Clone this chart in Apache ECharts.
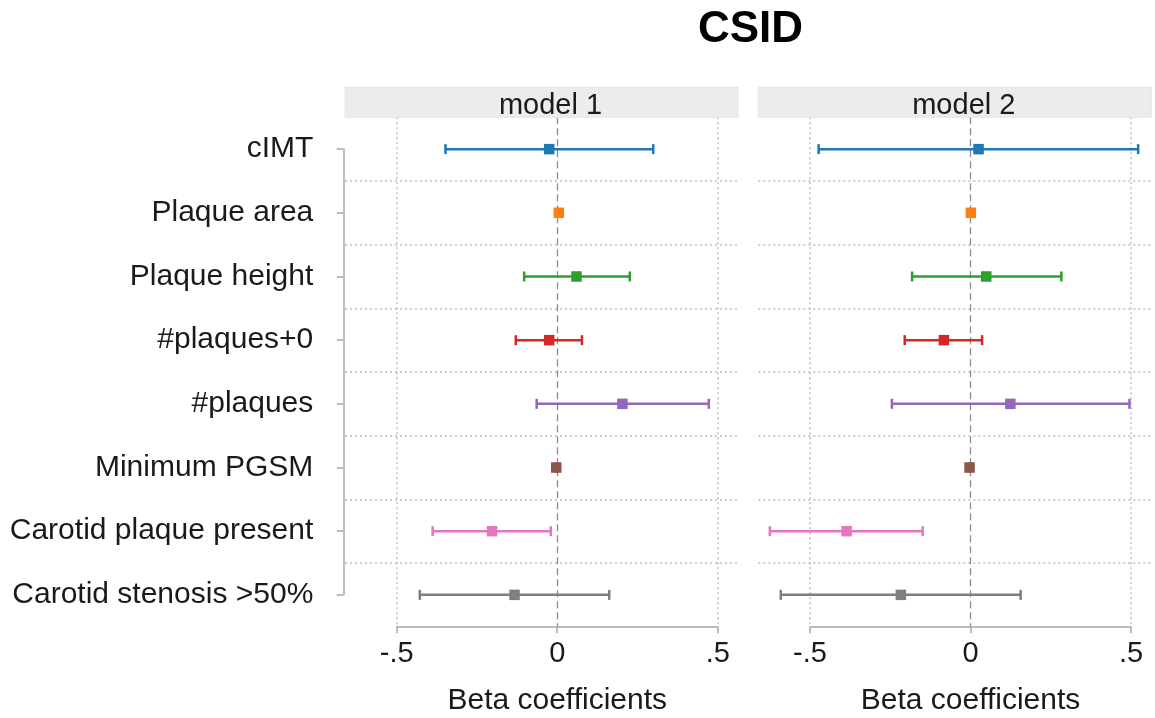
<!DOCTYPE html>
<html>
<head>
<meta charset="utf-8">
<title>CSID</title>
<script src="https://cdn.jsdelivr.net/npm/echarts@6/dist/echarts.min.js"></script>
<style>
  html, body { margin: 0; padding: 0; background: #ffffff; }
  #chart { width: 1155px; height: 718px; }
</style>
</head>
<body>
<div id="chart"></div>
<script>
// Outcomes, top to bottom
const categories = [
  'cIMT', 'Plaque area', 'Plaque height', '#plaques+0',
  '#plaques', 'Minimum PGSM', 'Carotid plaque present', 'Carotid stenosis >50%'
];

// Model 1: beta coefficient with 95% CI
const model1Beta = [-0.025, 0.005, 0.060, -0.025, 0.203, -0.003, -0.203, -0.133];
const model1Low  = [-0.348, 0.002, -0.103, -0.129, -0.064, -0.006, -0.388, -0.428];
const model1High = [ 0.299, 0.008, 0.226, 0.077, 0.472, 0.000, -0.020, 0.162];

// Model 2: beta coefficient with 95% CI
const model2Beta = [0.025, 0.001, 0.049, -0.083, 0.124, -0.003, -0.386, -0.217];
const model2Low  = [-0.473, -0.002, -0.182, -0.205, -0.245, -0.006, -0.625, -0.591];
const model2High = [ 0.522, 0.004, 0.283, 0.036, 0.495, 0.000, -0.149, 0.156];

// x-axis ticks
const tickValues = [-0.5, 0, 0.5];
const tickLabels = ['-.5', '0', '.5'];

const panelTitles = ['model 1', 'model 2'];
const axisTitle = 'Beta coefficients';
const chartTitle = 'CSID';

// one colour per outcome
const palette = ['#1f77b4', '#ff7f0e', '#2ca02c', '#d62728', '#9467bd', '#8c564b', '#e377c2', '#7f7f7f'];

const FONT = '"Liberation Sans", Arial, Helvetica, sans-serif';
const TEXT = '#1a1a1a';
const AXIS = '#a8a8a8';
const GRIDLINE = '#bdbdbd';

// layout
const X_MIN = -0.661, X_MAX = 0.563;
const PLOT_TOP = 117.3, PLOT_H = 509.4;
const PANEL_W = 393;
const panelLefts = [345, 758.3];
const unitW = PANEL_W / (X_MAX - X_MIN);

const panels = [
  { title: panelTitles[0], beta: model1Beta, low: model1Low, high: model1High },
  { title: panelTitles[1], beta: model2Beta, low: model2Low, high: model2High }
];

const grids = [];
const xAxes = [];
const yAxes = [];
const series = [];
const graphics = [];

// grid 0: category labels with the left axis spanning first..last outcome
const band = PLOT_H / categories.length;
grids.push({ left: 343.3, top: PLOT_TOP + band / 2, width: 1, height: PLOT_H - band, outerBoundsMode: 'none', containLabel: false });
xAxes.push({ gridIndex: 0, type: 'value', show: false });
yAxes.push({
  gridIndex: 0, type: 'category', data: categories, inverse: true, boundaryGap: false,
  axisLine: { show: true, lineStyle: { color: AXIS, width: 1.5 } },
  axisTick: { show: true, length: 6.5, lineStyle: { color: AXIS, width: 1.5 } },
  axisLabel: { fontFamily: FONT, fontSize: 30, color: TEXT, margin: 30, padding: [4, 0, 0, 0] },
  splitLine: { show: false }
});

panels.forEach((p, k) => {
  const left = panelLefts[k];

  // plot grid: full panel width, horizontal guides between outcomes
  const plotIdx = grids.length;
  grids.push({ left: left, top: PLOT_TOP, width: PANEL_W, height: PLOT_H, outerBoundsMode: 'none', containLabel: false });
  xAxes.push({ gridIndex: plotIdx, type: 'value', min: X_MIN, max: X_MAX, show: false });
  yAxes.push({
    gridIndex: plotIdx, type: 'category', data: categories, inverse: true, boundaryGap: true,
    axisLine: { show: false }, axisTick: { show: false }, axisLabel: { show: false },
    splitLine: { show: true, showMinLine: false, showMaxLine: false,
      lineStyle: { type: [2, 3], color: GRIDLINE, width: 1.5 } }
  });

  // axis grid: the visible x-axis from -.5 to .5
  const axIdx = grids.length;
  grids.push({ left: left + (tickValues[0] - X_MIN) * unitW, top: PLOT_TOP,
    width: (tickValues[2] - tickValues[0]) * unitW, height: PLOT_H, outerBoundsMode: 'none', containLabel: false });
  xAxes.push({
    gridIndex: axIdx, type: 'value', min: tickValues[0], max: tickValues[2], interval: 0.5,
    axisLine: { show: true, onZero: false, lineStyle: { color: AXIS, width: 1.5 } },
    axisTick: { show: true, length: 6.5, lineStyle: { color: AXIS, width: 1.5 } },
    axisLabel: { fontFamily: FONT, fontSize: 29, color: TEXT, margin: 13,
      formatter: v => tickLabels[tickValues.indexOf(v)] },
    splitLine: { show: true, lineStyle: { type: [2, 3], color: [GRIDLINE, 'transparent', GRIDLINE], width: 1.5 } },
    name: axisTitle, nameLocation: 'middle', nameGap: 59,
    nameTextStyle: { fontFamily: FONT, fontSize: 30, color: TEXT }
  });
  yAxes.push({ gridIndex: axIdx, type: 'value', show: false, min: 0, max: 1 });

  // confidence intervals with end caps
  series.push({
    type: 'custom',
    xAxisIndex: plotIdx, yAxisIndex: plotIdx,
    data: categories.map((c, i) => [i, p.low[i], p.high[i]]),
    encode: { x: [1, 2], y: 0 },
    renderItem: (params, api) => {
      const i = api.value(0);
      const a = api.coord([api.value(1), i]);
      const b = api.coord([api.value(2), i]);
      const h = 5;
      const style = { stroke: palette[params.dataIndex], lineWidth: 2.5 };
      return {
        type: 'group',
        children: [
          { type: 'line', shape: { x1: a[0], y1: a[1], x2: b[0], y2: b[1] }, style },
          { type: 'line', shape: { x1: a[0], y1: a[1] - h, x2: a[0], y2: a[1] + h }, style },
          { type: 'line', shape: { x1: b[0], y1: b[1] - h, x2: b[0], y2: b[1] + h }, style }
        ]
      };
    },
    z: 3,
    silent: true
  });

  // point estimates, with the reference line at zero
  series.push({
    type: 'scatter',
    xAxisIndex: plotIdx, yAxisIndex: plotIdx,
    data: categories.map((c, i) => [p.beta[i], i]),
    symbol: 'rect', symbolSize: 10.5,
    itemStyle: { color: params => palette[params.dataIndex], opacity: 1 },
    z: 4,
    silent: true,
    markLine: {
      silent: true, symbol: 'none', label: { show: false },
      lineStyle: { type: [7, 4], color: '#8c8c8c', width: 1.3 },
      data: [{ xAxis: 0 }],
      z: 2
    }
  });

  // panel header strip
  graphics.push({
    type: 'rect', z: 10,
    shape: { x: left, y: 87.3, width: PANEL_W, height: 30 },
    style: { fill: '#ececec', stroke: '#dde8f1', lineWidth: 1 }
  });
  graphics.push({
    type: 'text', z: 11,
    x: left + PANEL_W / 2 + 9, y: 106,
    style: { text: p.title, fontFamily: FONT, fontSize: 29, fill: TEXT, align: 'center', verticalAlign: 'middle' }
  });
});

graphics.push({
  type: 'text', z: 11, x: 750.5, y: 30,
  style: { text: chartTitle, fontFamily: FONT, fontSize: 44, fontWeight: 'bold', fill: '#000000',
    align: 'center', verticalAlign: 'middle' }
});

const chart = echarts.init(document.getElementById('chart'), null, { renderer: 'canvas' });
chart.setOption({
  animation: false,
  backgroundColor: '#ffffff',
  textStyle: { fontFamily: FONT },
  grid: grids,
  xAxis: xAxes,
  yAxis: yAxes,
  series: series,
  graphic: graphics
});
</script>
</body>
</html>
